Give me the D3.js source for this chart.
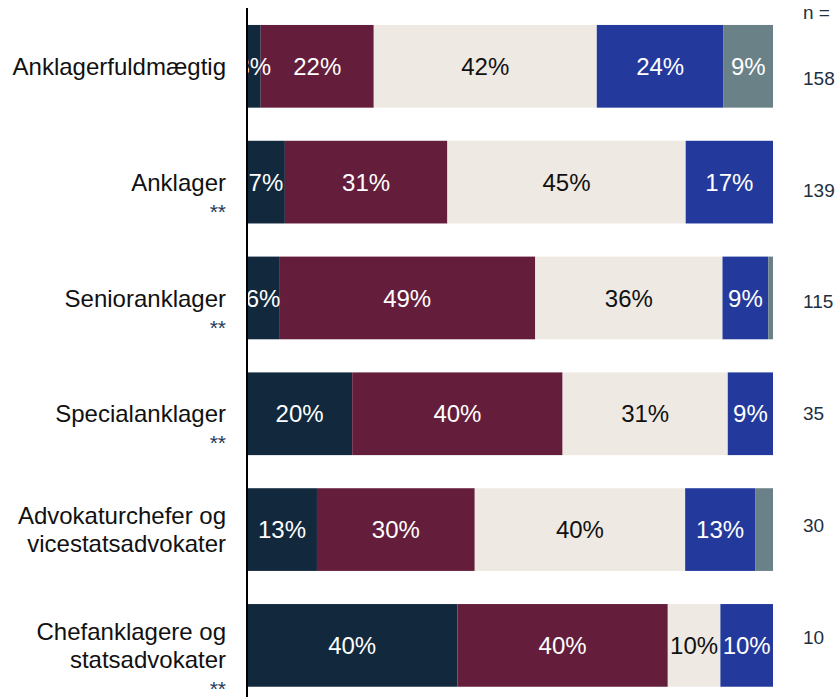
<!DOCTYPE html>
<html lang="da">
<head>
<meta charset="utf-8">
<script src="https://cdn.jsdelivr.net/npm/d3@7"></script>
<style>
  html, body { margin: 0; padding: 0; background: #ffffff; }
  svg { display: block; font-family: Arial, "Liberation Sans", sans-serif; }
</style>
</head>
<body>
<svg id="chart" width="838" height="697"></svg>
<script>
// Stillingsgrupper (top to bottom)
const categories = [
  "Anklagerfuldmægtig",
  "Anklager",
  "Senioranklager",
  "Specialanklager",
  "Advokaturchefer og vicestatsadvokater",
  "Chefanklagere og statsadvokater"
];
// Groups marked with ** under the name
const significant = [false, true, true, true, false, true];
// Number of respondents per group
const nValues = [158, 139, 115, 35, 30, 10];

// Answer shares in percent, one array per answer category (left to right)
const series1 = [2.6, 7.2, 6.1, 20.0, 13.3, 40];
const series2 = [21.5, 30.9, 48.7, 40.0, 30.0, 40];
const series3 = [42.4, 45.3, 35.6, 31.4, 40.0, 10];
const series4 = [24.1, 16.6, 8.7, 8.6, 13.3, 10];
const series5 = [9.4, 0, 0.9, 0, 3.4, 0];

const seriesKeys = ["s1", "s2", "s3", "s4", "s5"];
const seriesValues = [series1, series2, series3, series4, series5];
const colors = ["#12283d", "#641e3c", "#eee9e2", "#233a9c", "#6a8187"];
const textColors = ["#ffffff", "#ffffff", "#111111", "#ffffff", "#ffffff"];
// smallest share that still gets a value label, per answer category
const labelMin = [0, 4, 4, 4, 4];

const rows = categories.map((c, i) => {
  const r = { category: c };
  seriesKeys.forEach((k, j) => { r[k] = seriesValues[j][i]; });
  return r;
});

const svg = d3.select("#chart");
const axisX = 247;

const x = d3.scaleLinear().domain([0, 100]).range([axisX, 773]);
const y = d3.scaleBand()
  .domain(categories)
  .range([8.4, 703.3])
  .paddingInner(0.286)
  .paddingOuter(0.143);

const stacked = d3.stack().keys(seriesKeys)(rows);

svg.append("defs").append("clipPath").attr("id", "plot-clip")
  .append("rect")
  .attr("x", axisX + 1).attr("y", 0)
  .attr("width", 838 - axisX - 1).attr("height", 697);

const plot = svg.append("g").attr("clip-path", "url(#plot-clip)");

const layers = plot.selectAll("g.layer")
  .data(stacked)
  .join("g")
  .attr("class", "layer")
  .attr("fill", (d, i) => colors[i]);

layers.selectAll("rect")
  .data(d => d.map(p => Object.assign(p, { key: d.key })))
  .join("rect")
  .attr("x", d => x(d[0]))
  .attr("y", d => y(d.data.category))
  .attr("width", d => Math.max(0, x(d[1]) - x(d[0])))
  .attr("height", y.bandwidth());

// value labels
stacked.forEach((layer, si) => {
  plot.append("g")
    .selectAll("text")
    .data(layer.filter(d => (d[1] - d[0]) > 0 && (d[1] - d[0]) >= labelMin[si]))
    .join("text")
    .attr("x", d => (x(d[0]) + x(d[1])) / 2)
    .attr("y", d => y(d.data.category) + y.bandwidth() / 2)
    .attr("dy", "0.36em")
    .attr("text-anchor", "middle")
    .attr("font-size", 24)
    .attr("fill", textColors[si])
    .text(d => Math.round(d[1] - d[0]) + "%");
});

// vertical axis line
svg.append("line")
  .attr("x1", axisX).attr("x2", axisX)
  .attr("y1", 8).attr("y2", 697)
  .attr("stroke", "#000").attr("stroke-width", 2);

// category labels, wrapped after "og"
const lineH = 28;
categories.forEach((c, i) => {
  const lines = c.split(/(?<= og) /);
  const cy = y(c) + y.bandwidth() / 2;
  const first = cy - (lines.length - 1) * lineH / 2;
  const t = svg.append("text")
    .attr("text-anchor", "end")
    .attr("font-size", 24)
    .attr("fill", "#111111");
  lines.forEach((ln, k) => {
    t.append("tspan")
      .attr("x", 226)
      .attr("y", first + k * lineH)
      .attr("dy", "0.36em")
      .text(ln);
  });
  if (significant[i]) {
    svg.append("text")
      .attr("x", 226)
      .attr("y", first + (lines.length - 1) * lineH + 8.6 + lineH)
      .attr("text-anchor", "end")
      .attr("font-size", 21)
      .attr("fill", "#1f3a5a")
      .text("**");
  }
});

// n column
const nY = d3.scalePoint().domain(categories).range([78, 637]);
svg.append("text")
  .attr("x", 803).attr("y", 12).attr("dy", "0.36em")
  .attr("font-size", 19).attr("fill", "#1e2f3f")
  .text("n =");
svg.append("g").selectAll("text")
  .data(categories)
  .join("text")
  .attr("x", 803)
  .attr("y", d => nY(d))
  .attr("dy", "0.36em")
  .attr("font-size", 19)
  .attr("fill", "#1e2f3f")
  .text((d, i) => nValues[i]);
</script>
</body>
</html>
